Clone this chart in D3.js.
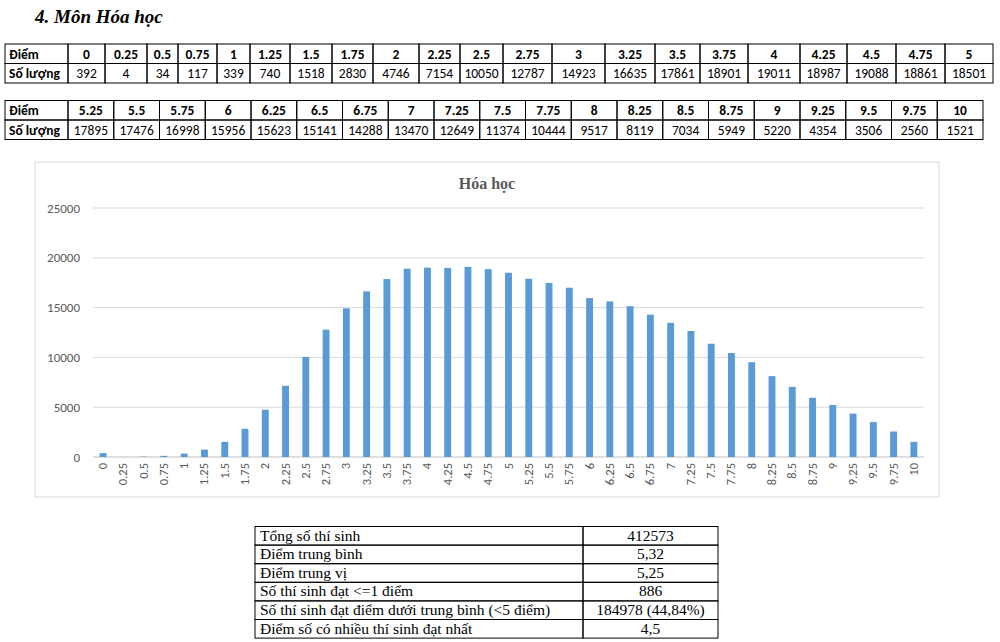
<!DOCTYPE html>
<html><head><meta charset="utf-8">
<script src="https://cdn.jsdelivr.net/npm/d3@7"></script>
<style>body{margin:0;background:#fff}</style>
</head><body><div id="viz"></div>
<script>
const scores = ['0','0.25','0.5','0.75','1','1.25','1.5','1.75','2','2.25','2.5','2.75','3','3.25','3.5','3.75','4','4.25','4.5','4.75','5',
  '5.25','5.5','5.75','6','6.25','6.5','6.75','7','7.25','7.5','7.75','8','8.25','8.5','8.75','9','9.25','9.5','9.75','10'];
const counts = [392,4,34,117,339,740,1518,2830,4746,7154,10050,12787,14923,16635,17861,18901,19011,18987,19088,18861,18501,
  17895,17476,16998,15956,15623,15141,14288,13470,12649,11374,10444,9517,8119,7034,5949,5220,4354,3506,2560,1521];
const yTicks = [0,5000,10000,15000,20000,25000];
const summaryLabels = ['Tổng số thí sinh','Điểm trung bình','Điểm trung vị','Số thí sinh đạt <=1 điểm','Số thí sinh đạt điểm dưới trung bình (<5 điểm)','Điểm số có nhiều thí sinh đạt nhất'];
const summaryValues = ['412573','5,32','5,25','886','184978 (44,84%)','4,5'];

const svg = d3.select('#viz').append('svg').attr('width',1000).attr('height',642)
  .style('font-family','Calibri, Carlito, "Liberation Sans", sans-serif');

svg.append('text').attr('x',35).attr('y',23).attr('font-family','"Liberation Serif", serif')
  .attr('font-weight','bold').attr('font-style','italic').attr('font-size',19).text('4.  Môn Hóa học');

// score tables
const drawTable = (y0, xs, heads, vals) => {
  const g = svg.append('g');
  const rows = [['Điểm', ...heads], ['Số lượng', ...vals]];
  const rh = 19.5;
  rows.forEach((r, ri) => {
    r.forEach((c, ci) => {
      const x0 = xs[ci], x1 = xs[ci+1];
      g.append('rect').attr('x',x0).attr('y',y0+ri*rh).attr('width',x1-x0).attr('height',rh)
        .attr('fill','none').attr('stroke','#000').attr('stroke-width',1);
      g.append('text').attr('x', ci===0 ? x0+4 : (x0+x1)/2).attr('y',y0+ri*rh+14.5)
        .attr('text-anchor', ci===0 ? 'start' : 'middle').attr('font-size',13.5)
        .attr('font-weight', ri===0 || ci===0 ? 'bold' : 'normal').text(c);
    });
  });
};
const xs1 = [5,68,105,147,178,217,250,290,332,373,419,460,503,552,605,655,700,748,800,847,896,945,993];
const xs2 = d3.range(21).map(i => 68 + i*(983-68)/20); xs2.unshift(5);
drawTable(44, xs1, scores.slice(0,21), counts.slice(0,21));
drawTable(100.5, xs2, scores.slice(21), counts.slice(21));

// chart
svg.append('rect').attr('x',35).attr('y',162).attr('width',904).attr('height',335)
  .attr('fill','#fff').attr('stroke','#d9d9d9');
svg.append('text').attr('x',487).attr('y',189).attr('text-anchor','middle')
  .attr('font-family','"Liberation Serif", serif').attr('font-weight','bold').attr('font-size',16).attr('fill','#595959').text('Hóa học');

const x = d3.scaleBand().domain(scores).range([93,924]).paddingInner(0.66).paddingOuter(0.33);
const y = d3.scaleLinear().domain([0,25000]).range([457,208]);

svg.append('g').selectAll('line').data(yTicks).join('line')
  .attr('x1',93).attr('x2',924).attr('y1',d=>y(d)).attr('y2',d=>y(d))
  .attr('stroke',d=>d===0?'#bfbfbf':'#d9d9d9');
svg.append('g').selectAll('text').data(yTicks).join('text')
  .attr('x',80).attr('y',d=>y(d)+4.5).attr('text-anchor','end').attr('font-size',13).attr('fill','#595959').text(d=>d);

svg.append('g').selectAll('rect').data(counts).join('rect')
  .attr('x',(d,i)=>x(scores[i])).attr('width',x.bandwidth())
  .attr('y',d=>y(d)).attr('height',d=>y(0)-y(d)).attr('fill','#5b9bd5');

svg.append('g').selectAll('text').data(scores).join('text')
  .attr('transform',d=>`translate(${x(d)+x.bandwidth()/2+4},463) rotate(-90)`)
  .attr('text-anchor','end').attr('font-size',12.5).attr('fill','#595959').text(d=>d);

// summary table
const sy = 526.5, srh = 18.6;
summaryLabels.forEach((l,i) => {
  const yy = sy + i*srh;
  svg.append('rect').attr('x',255).attr('y',yy).attr('width',328).attr('height',srh).attr('fill','none').attr('stroke','#000');
  svg.append('rect').attr('x',583).attr('y',yy).attr('width',135).attr('height',srh).attr('fill','none').attr('stroke','#000');
  svg.append('text').attr('x',260).attr('y',yy+14).attr('font-family','"Liberation Serif", serif').attr('font-size',15.5).text(l);
  svg.append('text').attr('x',650.5).attr('y',yy+14).attr('text-anchor','middle').attr('font-family','"Liberation Serif", serif').attr('font-size',15.5).text(summaryValues[i]);
});
</script></body></html>
